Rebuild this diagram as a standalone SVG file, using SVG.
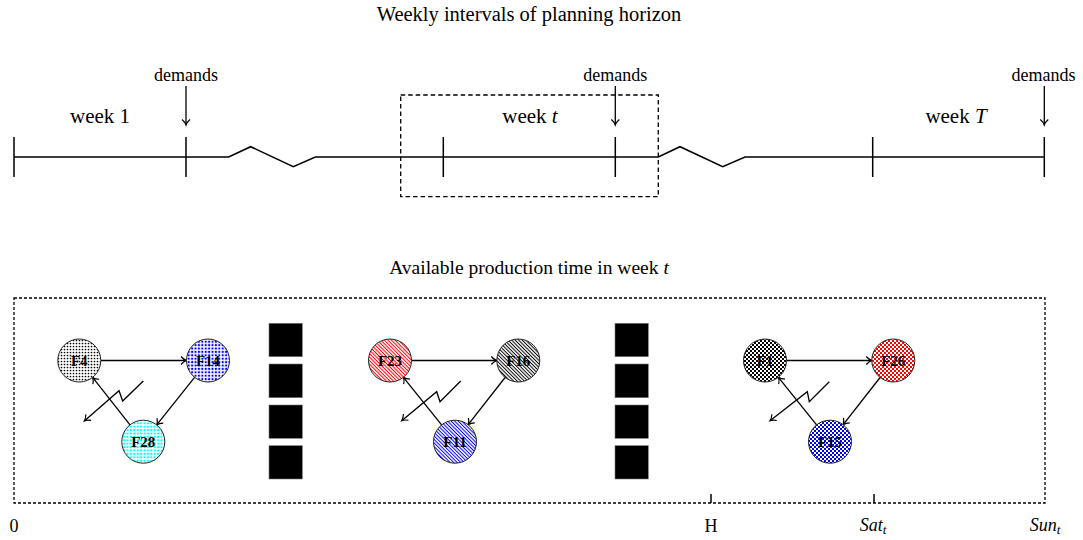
<svg xmlns="http://www.w3.org/2000/svg" width="1083" height="540" viewBox="0 0 1083 540">
<style>
.t{font-family:"Liberation Serif","Times New Roman",serif;fill:#000}
.ln{stroke:#000;stroke-width:1.5;fill:none}
.dash{stroke:#000;stroke-width:1.3;fill:none;stroke-dasharray:4.5 3}
.dash2{stroke:#000;stroke-width:1.3;fill:none;stroke-dasharray:3 2}
.arr{stroke:#000;stroke-width:1.3;fill:none;marker-end:url(#ah)}
.nd{stroke:#222;stroke-width:1}
.nl{font-family:"Liberation Serif","Times New Roman",serif;font-weight:bold;font-size:15px;text-anchor:middle;fill:#000}
.blk{fill:#000;stroke:#777;stroke-width:0.6}
</style>
<defs>
<marker id="ah" markerUnits="userSpaceOnUse" markerWidth="12" markerHeight="12" viewBox="-7 -6 8 12" refX="0" refY="0" orient="auto" overflow="visible">
<path d="M-5.5 -4 C-3.5 -1.6 -1.5 -0.5 0 0 C-1.5 0.5 -3.5 1.6 -5.5 4" fill="none" stroke="#000" stroke-width="1.2"/>
</marker>
<pattern id="pDotK" width="3" height="3" patternUnits="userSpaceOnUse"><rect width="3" height="3" fill="#fff"/><circle cx="1.5" cy="1.5" r="0.85" fill="#000"/></pattern>
<pattern id="pCDb" width="3.4" height="3.4" patternUnits="userSpaceOnUse"><rect width="3.4" height="3.4" fill="#fff"/><rect x="0.7" y="0.7" width="2" height="2" fill="#00f"/></pattern>
<pattern id="pCDc" width="3.4" height="3.4" patternUnits="userSpaceOnUse"><rect width="3.4" height="3.4" fill="#fff"/><rect x="0.7" y="0.7" width="2" height="2" fill="#0ff"/></pattern>
<pattern id="pNWr" width="4" height="2.5" patternUnits="userSpaceOnUse" patternTransform="rotate(45)"><rect width="4" height="2.5" fill="#fff"/><line x1="0" y1="1.25" x2="4" y2="1.25" stroke="#f00" stroke-width="1"/></pattern>
<pattern id="pNWk" width="4" height="2.5" patternUnits="userSpaceOnUse" patternTransform="rotate(45)"><rect width="4" height="2.5" fill="#fff"/><line x1="0" y1="1.25" x2="4" y2="1.25" stroke="#000" stroke-width="1"/></pattern>
<pattern id="pNWb" width="4" height="2.5" patternUnits="userSpaceOnUse" patternTransform="rotate(45)"><rect width="4" height="2.5" fill="#fff"/><line x1="0" y1="1.25" x2="4" y2="1.25" stroke="#00f" stroke-width="1"/></pattern>
<pattern id="pCBk" width="4" height="4" patternUnits="userSpaceOnUse"><rect width="4" height="4" fill="#fff"/><rect width="2" height="2" fill="#000"/><rect x="2" y="2" width="2" height="2" fill="#000"/></pattern>
<pattern id="pCBr" width="4" height="4" patternUnits="userSpaceOnUse"><rect width="4" height="4" fill="#fff"/><rect width="2" height="2" fill="#f00"/><rect x="2" y="2" width="2" height="2" fill="#f00"/></pattern>
<pattern id="pCBb" width="4" height="4" patternUnits="userSpaceOnUse"><rect width="4" height="4" fill="#fff"/><rect width="2" height="2" fill="#00f"/><rect x="2" y="2" width="2" height="2" fill="#00f"/></pattern>
</defs>
<rect width="1083" height="540" fill="#fff"/>

<g id="titles">
<text class="t" x="529" y="21" font-size="20.5" text-anchor="middle">Weekly intervals of planning horizon</text>
<text class="t" x="529" y="274" font-size="19.5" text-anchor="middle">Available production time in week <tspan font-style="italic">t</tspan></text>
</g>

<g id="timeline">
<path class="ln" d="M14 157 H228.7 L250.7 146.7 L293.3 166.7 L315.3 157 H658.3 L680 146.7 L722.7 166.7 L745 157 H1044.3"/>
<path class="ln" d="M14 137 V177 M186 137 V177 M443.3 137 V177 M615.3 137 V177 M872.7 137 V177 M1044.3 137 V177"/>
<rect id="week-t-box" class="dash" x="400.7" y="95" width="257.6" height="101.7"/>
<text class="t" x="100" y="123" font-size="21" text-anchor="middle">week 1</text>
<text class="t" x="530" y="123" font-size="21" text-anchor="middle">week <tspan font-style="italic">t</tspan></text>
<text class="t" x="956" y="123" font-size="21" text-anchor="middle">week <tspan font-style="italic">T</tspan></text>
</g>

<g id="demands">
<text class="t" x="186" y="81" font-size="18" text-anchor="middle">demands</text>
<text class="t" x="615.3" y="81" font-size="18" text-anchor="middle">demands</text>
<text class="t" x="1043.5" y="81" font-size="18" text-anchor="middle">demands</text>
</g>

<g id="production-box">
<rect class="dash2" x="14" y="298" width="1031" height="205"/>
<path class="ln" stroke-width="1.2" d="M711 494 V503 M874 494 V503"/>
<text class="t" x="14" y="532" font-size="18" text-anchor="middle">0</text>
<text class="t" x="711" y="532" font-size="18" text-anchor="middle">H</text>
<text class="t" x="873" y="531" font-size="18" text-anchor="middle"><tspan font-style="italic">Sat</tspan><tspan font-style="italic" font-size="13" dy="3">t</tspan></text>
<text class="t" x="1045" y="531" font-size="18" text-anchor="middle"><tspan font-style="italic">Sun</tspan><tspan font-style="italic" font-size="13" dy="3">t</tspan></text>
</g>

<g id="separators">
<rect class="blk" x="269" y="323.3" width="33.3" height="33.4"/>
<rect class="blk" x="269" y="364" width="33.3" height="33.7"/>
<rect class="blk" x="269" y="405" width="33.3" height="33.3"/>
<rect class="blk" x="269" y="445.7" width="33.3" height="33.3"/>
<rect class="blk" x="615" y="323.3" width="33.3" height="33.4"/>
<rect class="blk" x="615" y="364" width="33.3" height="33.7"/>
<rect class="blk" x="615" y="405" width="33.3" height="33.3"/>
<rect class="blk" x="615" y="445.7" width="33.3" height="33.3"/>
</g>

<g id="connectors">
<line class="arr" x1="100.8" y1="360.5" x2="186.5" y2="360.5"/>
<line class="arr" x1="194.6" y1="377.3" x2="156.7" y2="424.9"/>
<line class="arr" x1="130" y1="424.8" x2="92.6" y2="377.4"/>
<polyline class="arr" points="143.3,381 122.7,401 119,390.7 84.3,421"/>

<line class="arr" x1="411.5" y1="360.5" x2="496.8" y2="360.5"/>
<line class="arr" x1="505.1" y1="377.5" x2="468.2" y2="424.7"/>
<line class="arr" x1="441.6" y1="424.9" x2="403.4" y2="377.3"/>
<polyline class="arr" points="460.7,381 440,401.7 436.7,391.7 401.7,420.7"/>

<line class="arr" x1="786.5" y1="360.5" x2="871.8" y2="360.5"/>
<line class="arr" x1="880.1" y1="377.5" x2="843.2" y2="424.7"/>
<line class="arr" x1="816.6" y1="424.9" x2="778.4" y2="377.3"/>
<polyline class="arr" points="829.3,381.7 809.3,401.7 807.3,391.7 770,420.7"/>

<line class="arr" x1="186" y1="86" x2="186" y2="125"/>
<line class="arr" x1="615.3" y1="86" x2="615.3" y2="125"/>
<line class="arr" x1="1044.3" y1="86" x2="1044.3" y2="125"/>
</g>

<g id="F4"><circle class="nd" cx="79.3" cy="360.5" r="21.5" fill="url(#pDotK)"/><text class="nl" x="79.3" y="365.5">F4</text></g>
<g id="F14"><circle class="nd" cx="208" cy="360.5" r="21.5" fill="url(#pCDb)"/><text class="nl" x="208" y="365.5">F14</text></g>
<g id="F28"><circle class="nd" cx="143.3" cy="441.7" r="21.5" fill="url(#pCDc)"/><text class="nl" x="143.3" y="446.7">F28</text></g>

<g id="F23"><circle class="nd" cx="390" cy="360.5" r="21.5" fill="url(#pNWr)"/><text class="nl" x="390" y="365.5">F23</text></g>
<g id="F16"><circle class="nd" cx="518.3" cy="360.5" r="21.5" fill="url(#pNWk)"/><text class="nl" x="518.3" y="365.5">F16</text></g>
<g id="F11"><circle class="nd" cx="455" cy="441.7" r="21.5" fill="url(#pNWb)"/><text class="nl" x="455" y="446.7">F11</text></g>

<g id="F1"><circle class="nd" cx="765" cy="360.5" r="21.5" fill="url(#pCBk)"/><text class="nl" x="765" y="365.5">F1</text></g>
<g id="F26"><circle class="nd" cx="893.3" cy="360.5" r="21.5" fill="url(#pCBr)"/><text class="nl" x="893.3" y="365.5">F26</text></g>
<g id="F15"><circle class="nd" cx="830" cy="441.7" r="21.5" fill="url(#pCBb)"/><text class="nl" x="830" y="446.7">F15</text></g>
</svg>
